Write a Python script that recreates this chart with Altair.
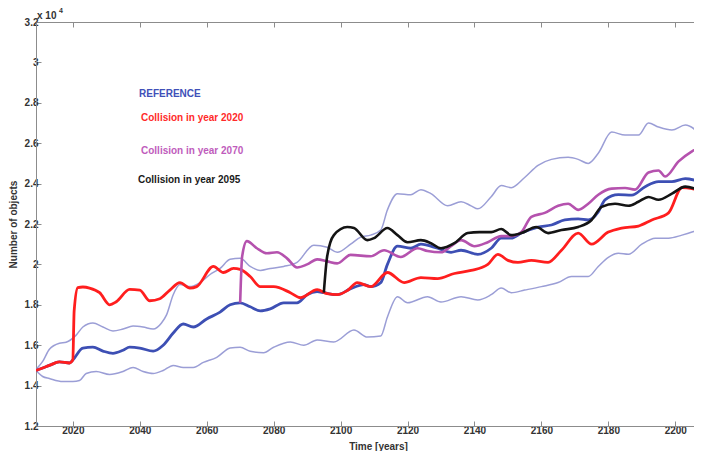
import altair as alt
import pandas as pd

# ---------------- data (values in units of 10^4) ----------------
ref_years = [2009, 2011, 2013, 2016, 2019, 2020, 2023, 2026, 2029, 2032, 2035, 2037, 2040, 2044,
             2047, 2050, 2053, 2056, 2060, 2064, 2067, 2070, 2073, 2076, 2079, 2083, 2087, 2090,
             2093, 2095, 2099, 2103, 2107, 2109, 2112, 2114, 2117, 2121, 2124, 2129, 2133, 2136,
             2141, 2145, 2148, 2151, 2154, 2159, 2163, 2167, 2171, 2174, 2177, 2179, 2183, 2187,
             2191, 2195, 2199, 2203, 2208]
ref_vals = [1.475, 1.487, 1.50, 1.517, 1.512, 1.527, 1.586, 1.59, 1.571, 1.56, 1.575, 1.59, 1.586, 1.571,
            1.60, 1.66, 1.705, 1.69, 1.73, 1.764, 1.80, 1.81, 1.79, 1.77, 1.78, 1.81, 1.81, 1.85,
            1.865, 1.86, 1.85, 1.88, 1.90, 1.89, 1.91, 2.00, 2.09, 2.08, 2.10, 2.08, 2.06, 2.07,
            2.05, 2.08, 2.13, 2.13, 2.155, 2.185, 2.195, 2.22, 2.225, 2.22, 2.26, 2.32, 2.345, 2.343,
            2.385, 2.41, 2.41, 2.425, 2.405]

upper_years = [2009, 2011, 2013, 2016, 2018, 2021, 2023, 2026, 2029, 2032, 2035, 2038, 2041, 2044,
               2046.5, 2048, 2050, 2052, 2055, 2058, 2061, 2064, 2067, 2070, 2073, 2076, 2079, 2083,
               2087, 2092, 2096, 2099, 2103, 2106, 2109, 2112, 2114, 2117, 2121, 2124, 2127, 2132,
               2136, 2139, 2141, 2145, 2148, 2151, 2155, 2159, 2163, 2168, 2171, 2174, 2177, 2181,
               2185, 2189, 2192, 2195, 2199, 2203, 2208]
upper_vals = [1.48, 1.52, 1.58, 1.61, 1.615, 1.65, 1.69, 1.71, 1.69, 1.67, 1.68, 1.695, 1.69, 1.68,
              1.71, 1.75, 1.85, 1.90, 1.89, 1.91, 1.95, 1.98, 2.025, 2.03, 1.99, 1.97, 1.98, 1.99,
              2.01, 2.095, 2.085, 2.06, 2.10, 2.135, 2.145, 2.17, 2.27, 2.35, 2.345, 2.37, 2.35, 2.29,
              2.31, 2.29, 2.275, 2.335, 2.39, 2.38, 2.43, 2.49, 2.52, 2.53, 2.52, 2.50, 2.55, 2.655,
              2.64, 2.64, 2.70, 2.68, 2.665, 2.69, 2.635]

lower_years = [2009, 2011, 2013, 2017, 2020, 2022, 2024, 2027, 2031, 2035, 2038, 2041, 2044, 2047,
               2050, 2053, 2056, 2059, 2063, 2067, 2070, 2073, 2077, 2080, 2085, 2089, 2093, 2098,
               2104, 2108, 2112, 2114, 2117, 2120, 2126, 2130, 2136, 2141, 2145, 2148, 2151, 2155,
               2160, 2165, 2169, 2174, 2177, 2180, 2183, 2186, 2190, 2194, 2198, 2202, 2205, 2208]
lower_vals = [1.475, 1.445, 1.435, 1.42, 1.42, 1.425, 1.46, 1.47, 1.455, 1.47, 1.49, 1.47, 1.46, 1.475,
              1.50, 1.49, 1.49, 1.515, 1.54, 1.586, 1.59, 1.57, 1.563, 1.59, 1.616, 1.60, 1.626, 1.616,
              1.675, 1.64, 1.645, 1.74, 1.84, 1.81, 1.84, 1.814, 1.84, 1.824, 1.85, 1.883, 1.86, 1.873,
              1.89, 1.91, 1.94, 1.94, 1.99, 2.035, 2.055, 2.05, 2.10, 2.13, 2.13, 2.145, 2.16, 2.18]

c2020_years = [2009, 2011, 2013, 2016, 2019, 2020, 2020.4, 2021.5, 2023, 2025, 2028, 2031, 2033, 2037,
               2040, 2043, 2046, 2049, 2052, 2055, 2057, 2062, 2065, 2068, 2070, 2073, 2076, 2080,
               2085, 2088, 2093, 2096, 2099, 2102, 2105, 2109, 2114, 2119, 2124, 2129, 2134, 2139,
               2144, 2147, 2150, 2153, 2157, 2162, 2166, 2171, 2175, 2180, 2184, 2189, 2193, 2198,
               2202, 2205, 2208]
c2020_vals = [1.475, 1.487, 1.50, 1.517, 1.512, 1.527, 1.77, 1.885, 1.888, 1.883, 1.86, 1.80, 1.815, 1.876,
              1.873, 1.82, 1.83, 1.873, 1.91, 1.883, 1.89, 1.99, 1.96, 1.98, 1.975, 1.94, 1.89, 1.89,
              1.86, 1.835, 1.875, 1.855, 1.85, 1.87, 1.91, 1.89, 1.96, 1.91, 1.935, 1.93, 1.955, 1.97,
              2.00, 2.05, 2.02, 2.01, 2.02, 2.01, 2.07, 2.155, 2.10, 2.16, 2.18, 2.19, 2.22, 2.255,
              2.38, 2.375, 2.36]

c2070_years = [2070, 2070.6, 2072, 2075, 2078, 2081, 2084, 2087, 2090, 2093, 2096, 2099, 2103, 2109,
               2113, 2118, 2123, 2126, 2130, 2133, 2136, 2140, 2144, 2148, 2151, 2154, 2157, 2161,
               2165, 2168, 2171, 2174, 2177, 2181, 2185, 2188, 2192, 2195, 2197, 2201, 2205, 2208]
c2070_vals = [1.81, 2.04, 2.115, 2.08, 2.055, 2.06, 2.03, 1.985, 2.00, 2.025, 2.015, 2.005, 2.047, 2.04,
              2.07, 2.037, 2.08, 2.066, 2.06, 2.09, 2.12, 2.09, 2.11, 2.14, 2.14, 2.16, 2.235, 2.255,
              2.29, 2.30, 2.27, 2.30, 2.345, 2.375, 2.378, 2.37, 2.455, 2.465, 2.435, 2.51, 2.56, 2.585]

c2095_years = [2095, 2096, 2098, 2102, 2104, 2108, 2110, 2114, 2117, 2120, 2124, 2127, 2130, 2134,
               2138, 2141.5, 2145, 2148, 2151, 2154, 2158.5, 2162, 2166, 2171, 2175, 2178, 2182, 2186,
               2189, 2192, 2195, 2199, 2203, 2208]
c2095_vals = [1.86, 2.04, 2.145, 2.185, 2.18, 2.12, 2.13, 2.18, 2.145, 2.11, 2.12, 2.105, 2.08, 2.105,
              2.155, 2.16, 2.16, 2.175, 2.145, 2.155, 2.185, 2.155, 2.17, 2.185, 2.22, 2.285, 2.30, 2.29,
              2.31, 2.334, 2.32, 2.35, 2.385, 2.36]

legend_labels = ["REFERENCE", "Collision in year 2020", "Collision in year 2070", "Collision in year 2095"]
x_tick_values = [2020, 2040, 2060, 2080, 2100, 2120, 2140, 2160, 2180, 2200]
y_tick_values = [1.2, 1.4, 1.6, 1.8, 2, 2.2, 2.4, 2.6, 2.8, 3, 3.2]
x_domain = [2009, 2205.6]
y_domain = [1.2, 3.2]

# ---------------- styling ----------------
FONT = "Liberation Sans"
AXIS_GRAY = "#8c8c8c"
TEXT_GRAY = "#333333"
BLUE = "#3d4fb4"
BAND = "#9094d2"
RED = "#ff1e1e"
MAGENTA = "#b552ae"
BLACK = "#141414"
W, H = 658, 404

xscale = alt.Scale(domain=x_domain, nice=False, zero=False)
yscale = alt.Scale(domain=y_domain, nice=False, zero=False)

common_axis = dict(grid=False, domainColor=AXIS_GRAY, tickColor=AXIS_GRAY, domainWidth=1,
                   tickWidth=1, labelColor=TEXT_GRAY, labelFont=FONT, labelFontWeight="bold",
                   labelFontSize=10, titleColor=TEXT_GRAY, titleFont=FONT, titleFontWeight="bold",
                   titleFontSize=10, tickSize={"expr": "-5"})

x_axis_bottom = alt.Axis(orient="bottom", values=x_tick_values, format="d", labelPadding=4,
                         title="Time [years]", titleX=342, titleY=20.5, titleBaseline="middle",
                         titleAlign="center", labelFlush=False, **common_axis)
y_axis_left = alt.Axis(orient="left", values=y_tick_values, format="~g", labelPadding=3,
                       title="Number of objects", titleX=-23, titleY=H / 2, titleAngle=270,
                       titleBaseline="middle", titleAlign="center", labelFlush=False, **common_axis)
x_axis_top = alt.Axis(orient="top", values=x_tick_values, labels=False, title=None,
                      **common_axis)


def frame(years, vals):
    return pd.DataFrame({"year": years, "value": vals})


def line_layer(years, vals, color, width, opacity=1.0, xaxis=None, yaxis=None):
    return alt.Chart(frame(years, vals)).mark_line(
        color=color, strokeWidth=width, opacity=opacity, interpolate="monotone", clip=True
    ).encode(
        x=alt.X("year:Q", scale=xscale, axis=xaxis),
        y=alt.Y("value:Q", scale=yscale, axis=yaxis),
    )


upper = line_layer(upper_years, upper_vals, BAND, 1.5, 0.9, xaxis=x_axis_bottom, yaxis=y_axis_left)
lower = line_layer(lower_years, lower_vals, BAND, 1.5, 0.9, xaxis=x_axis_top)
ref = line_layer(ref_years, ref_vals, BLUE, 2.8)
red = line_layer(c2020_years, c2020_vals, RED, 2.8)
mag = line_layer(c2070_years, c2070_vals, MAGENTA, 2.6)
blk = line_layer(c2095_years, c2095_vals, BLACK, 2.6)


def text_layer(text, color, px, py, size=10, align="left"):
    return alt.Chart(pd.DataFrame({"t": [text]})).mark_text(
        font=FONT, fontWeight="bold", fontSize=size, color=color, align=align, baseline="middle"
    ).encode(text="t:N", x=alt.value(px), y=alt.value(py))


legend_colors = ["#4050b8", "#ff2a2a", "#c05cbc", "#1a1a1a"]
legend_x = [103, 105, 105, 102]
legend_y = [72, 96, 128.5, 158]
legend = [text_layer(t, c, lx, ly) for t, c, lx, ly in zip(legend_labels, legend_colors, legend_x, legend_y)]

exp_base = text_layer("x 10", TEXT_GRAY, 1, -6.5, size=10)
exp_pow = text_layer("4", TEXT_GRAY, 23, -11, size=7)

chart = alt.layer(
    upper, lower, ref, red, mag, blk, *legend, exp_base, exp_pow
).resolve_axis(
    x="independent", y="independent"
).properties(
    width=W, height=H, autosize="none",
    padding={"left": 28, "top": 14, "right": 0, "bottom": 25},
).configure_view(
    stroke=None
).configure(
    background="white"
)

chart.save("out.html", embed_options={"renderer": "svg", "actions": False})
